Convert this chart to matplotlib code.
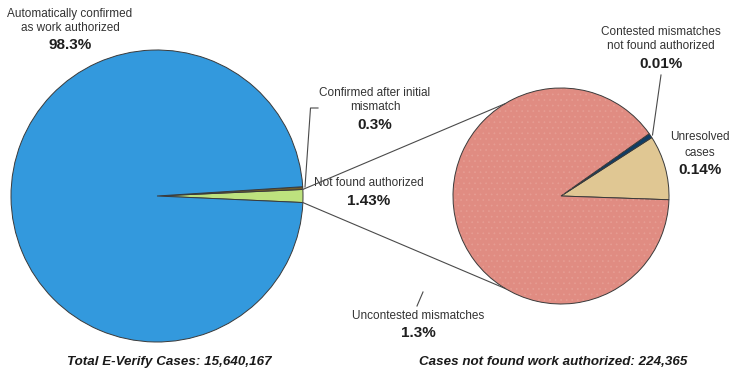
import matplotlib
matplotlib.use('Agg')
import matplotlib.pyplot as plt
import numpy as np
from matplotlib.patches import Wedge

# ---- data ----
main_labels = ['Not found authorized', 'Confirmed after initial\nmismatch',
               'Automatically confirmed\nas work authorized']
main_values = [1.43, 0.3, 98.3]
main_pct = ['1.43%', '0.3%', '98.3%']
main_colors = ['#bde27e', '#6e5c2c', '#3399dd']

sub_labels = ['Unresolved\ncases', 'Contested mismatches\nnot found authorized',
              'Uncontested mismatches']
sub_values = [0.14, 0.01, 1.3]
sub_pct = ['0.14%', '0.01%', '1.3%']
sub_colors = ['#e0c793', '#0e3d66', '#e08c82']

main_total = 'Total E-Verify Cases: 15,640,167'
sub_total = 'Cases not found work authorized: 224,365'

# ---- layout ----
W, H = 740, 385
fig = plt.figure(figsize=(W / 100, H / 100), dpi=100)
ax = fig.add_axes([0, 0, 1, 1])

def Y(p):
    return H - p

LC = (157, Y(196)); LR = 146
RC = (561, Y(196)); RR = 108

wp = dict(edgecolor='#3a3a3a', linewidth=0.7)
start_left = -main_values[0] / sum(main_values) * 360 / 2
wl, _ = ax.pie(main_values, colors=main_colors, center=LC, radius=LR,
               startangle=start_left, counterclock=True, wedgeprops=wp)
wr, _ = ax.pie(sub_values, colors=sub_colors, center=RC, radius=RR,
               startangle=-2, counterclock=True, wedgeprops=wp)

# subtle dotted texture on the large pink slice
plt.rcParams['hatch.linewidth'] = 0.5
pw = wr[2]
ax.add_patch(Wedge(pw.center, pw.r * 0.99, pw.theta1 + 0.5, pw.theta2 - 0.5, facecolor='none',
                   edgecolor='#e69d93', hatch='...', linewidth=0, zorder=pw.get_zorder() + 0.1))

ax.set_xlim(0, W)
ax.set_ylim(0, H)
ax.set_aspect('equal', adjustable='box')
ax.axis('off')

lc = '#4a4a4a'
# connectors between pies
g = wl[0]
for th_l, th_r in [(g.theta2, 121.5), (g.theta1, 239.0)]:
    x0 = LC[0] + LR * np.cos(np.radians(th_l)); y0 = LC[1] + LR * np.sin(np.radians(th_l))
    x1 = RC[0] + RR * np.cos(np.radians(th_r)); y1 = RC[1] + RR * np.sin(np.radians(th_r))
    ax.plot([x0, x1], [y0, y1], color=lc, lw=0.8, zorder=5)

# leader lines
ax.plot([318, 310.5, 305], [Y(108), Y(108), Y(187)], color=lc, lw=0.8, zorder=5)
ax.plot([661, 652.5], [Y(75), Y(135)], color=lc, lw=0.8, zorder=5)
ax.plot([423, 417], [Y(292), Y(306)], color=lc, lw=0.8, zorder=5)

fam = ['Liberation Sans', 'DejaVu Sans']
tc = '#333333'; pc = '#1e1e1e'
fs = 8.5; pfs = 11

def label(x, y_lines, lab, pct, ypct):
    for i, line in enumerate(lab.split('\n')):
        ax.text(x, Y(y_lines[i]), line, ha='center', va='center', fontsize=fs,
                color=tc, family=fam)
    ax.text(x, Y(ypct), pct, ha='center', va='center', fontsize=pfs,
            fontweight='bold', color=pc, family=fam)

label(70, [14, 28], main_labels[2], main_pct[2], 45)
label(375, [93, 107], main_labels[1], main_pct[1], 125)
label(369, [183], main_labels[0], main_pct[0], 201)
label(661, [32, 46], sub_labels[1], sub_pct[1], 64)
label(700, [137, 153], sub_labels[0], sub_pct[0], 170)
label(418, [316], sub_labels[2], sub_pct[2], 333)

bfam = ['Liberation Sans', 'DejaVu Sans']
ax.text(169, Y(362), main_total, ha='center', va='center', fontsize=9.6,
        fontweight='bold', fontstyle='italic', color='#1a1a1a', family=bfam)
ax.text(553, Y(362), sub_total, ha='center', va='center', fontsize=9.6,
        fontweight='bold', fontstyle='italic', color='#1a1a1a', family=bfam)

fig.savefig('out.png', dpi=100)
